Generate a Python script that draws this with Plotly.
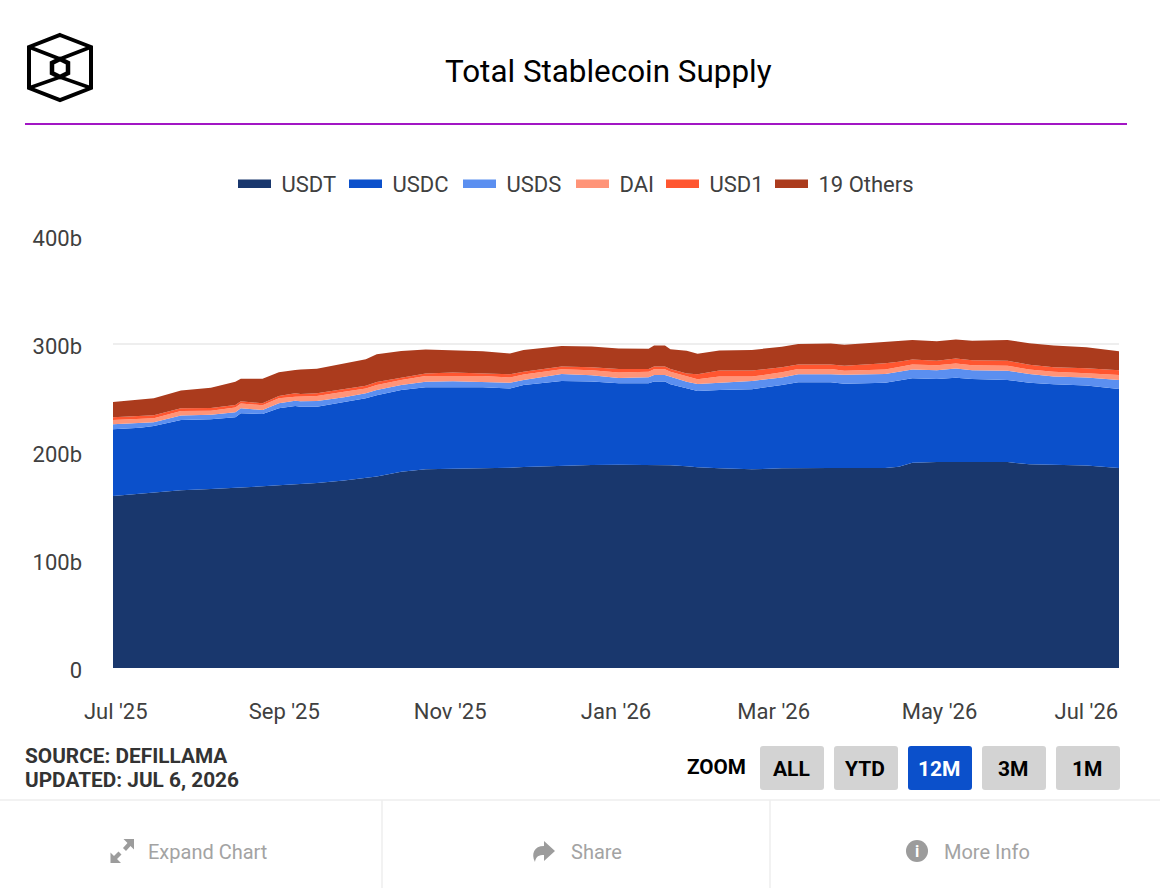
import plotly.graph_objs as go

# values, in billions
dates = ['2025-07-01', '2025-07-11', '2025-07-16', '2025-07-26', '2025-08-06', '2025-08-15', '2025-08-17', '2025-08-25',
         '2025-08-31', '2025-09-06', '2025-09-08', '2025-09-14', '2025-09-24', '2025-10-02', '2025-10-06', '2025-10-15',
         '2025-10-24', '2025-11-03', '2025-11-14', '2025-11-24', '2025-11-29', '2025-12-13', '2025-12-24', '2026-01-03',
         '2026-01-14', '2026-01-16', '2026-01-20', '2026-01-22', '2026-01-28', '2026-02-01', '2026-02-09', '2026-02-21', '2026-03-04',
         '2026-03-10', '2026-03-22', '2026-03-27', '2026-04-11', '2026-04-16', '2026-04-21', '2026-04-30', '2026-05-07',
         '2026-05-13', '2026-05-26', '2026-06-03', '2026-06-12', '2026-06-24', '2026-07-06']
usdt = [159.3, 161.4, 162.4, 164.6, 165.8, 166.7, 167.3, 168.2, 169.2, 170.1, 170.1, 171.3, 173.5, 175.6, 177.2, 181.8,
        184.0, 184.6, 184.9, 185.5, 186.1, 187.4, 188.0, 188.3, 188.0, 188.0, 188.0, 187.7, 186.7, 185.8, 184.9, 184.0, 184.9,
        185.2, 185.2, 185.2, 185.2, 186.4, 190.1, 190.7, 190.7, 190.7, 190.7, 188.6, 188.0, 187.4, 185.2]
usdc = [61.7, 61.1, 61.7, 65.1, 64.5, 65.4, 68.5, 67.0, 71.3, 72.5, 71.9, 70.7, 72.8, 74.1, 75.3, 75.6,
        75.9, 75.3, 75.0, 73.4, 75.9, 78.4, 77.2, 75.3, 75.6, 77.2, 77.2, 75.0, 72.2, 70.7, 72.5, 74.1, 77.2,
        79.3, 79.3, 78.1, 79.0, 79.6, 78.1, 76.8, 78.1, 76.8, 75.9, 75.6, 74.7, 74.1, 73.1]
usds = [4.6, 4.3, 3.4, 4.0, 4.3, 4.6, 4.6, 3.7, 4.6, 4.9, 4.9, 5.2, 4.3, 4.6, 4.9, 4.6,
        5.2, 5.6, 4.9, 5.2, 4.6, 6.5, 5.9, 4.9, 5.6, 6.2, 6.2, 7.1, 6.2, 6.5, 6.8, 7.7, 6.8,
        7.4, 7.4, 8.3, 8.0, 8.3, 8.3, 8.3, 8.6, 8.3, 8.6, 8.0, 7.1, 7.4, 8.3]
dai = [4.0, 4.0, 3.7, 4.3, 3.7, 4.6, 4.6, 4.3, 4.6, 3.7, 4.3, 4.6, 5.2, 4.6, 4.6, 4.6,
       5.2, 4.9, 5.6, 4.9, 5.2, 4.3, 4.6, 5.2, 5.2, 5.2, 5.2, 4.6, 5.2, 4.3, 5.6, 4.0, 4.9,
       4.9, 4.9, 3.7, 4.3, 4.6, 4.6, 4.6, 4.6, 4.6, 4.6, 4.3, 4.6, 4.0, 4.6]
usd1 = [2.5, 2.5, 2.8, 2.5, 2.5, 2.2, 1.9, 1.9, 2.2, 3.1, 2.5, 2.5, 2.5, 2.5, 2.8, 2.5,
        2.5, 3.1, 2.5, 3.1, 2.5, 2.5, 2.8, 3.1, 2.5, 2.5, 2.5, 2.5, 2.5, 4.6, 5.6, 5.6, 4.6,
        4.3, 4.3, 4.6, 5.6, 4.6, 4.6, 4.0, 4.6, 4.6, 4.6, 4.3, 4.0, 4.6, 4.6]
others = [14.2, 15.4, 15.7, 16.4, 18.8, 21.6, 21.0, 22.8, 21.9, 21.6, 22.8, 22.8, 23.8, 24.4, 25.6, 24.4,
          22.2, 21.0, 20.4, 19.1, 20.1, 19.1, 19.1, 19.1, 18.8, 19.4, 19.4, 18.2, 21.0, 19.1, 18.5, 19.1, 19.1,
          18.8, 19.4, 19.4, 19.4, 19.1, 17.9, 18.2, 17.6, 17.9, 19.4, 19.8, 20.1, 19.4, 17.6]

series_names = ['USDT', 'USDC', 'USDS', 'DAI', 'USD1', '19 Others']
series_values = [usdt, usdc, usds, dai, usd1, others]
series_colors = ['#19376d', '#0b50cb', '#5b8ff0', '#ff9478', '#ff5630', '#ab3b1d']
legend_widths = [63, 66, 65, 42, 61, 95]

# labels sit a little off their dates, first and last are pulled inside the plot like in the original
x_ticks = ['2025-07-02', '2025-09-02', '2025-11-02', '2026-01-02', '2026-03-01', '2026-05-01', '2026-06-24']
x_labels = ["Jul '25", "Sep '25", "Nov '25", "Jan '26", "Mar '26", "May '26", "Jul '26"]
y_ticks = [0, 100, 200, 300, 400]
y_labels = ['0', '100b', '200b', '300b', '400b']

zoom_labels = ['ALL', 'YTD', '12M', '3M', '1M']
zoom_lefts = [760, 834, 908, 982, 1056]
active_zoom = '12M'

W, H = 1172, 888
L, R, T, B = 113, 1119, 236, 668
FONT = 'Roboto'


# page pixels to paper coordinates
def px(x):
    return (x - L) / (R - L)


def py(y):
    return (B - y) / (B - T)


def path(points, close=False):
    s = 'M ' + ' L '.join('%.5f,%.5f' % (px(a), py(b)) for a, b in points)
    return s + (' Z' if close else '')


def line_shape(points, color, width, close=False):
    return dict(type='path', xref='paper', yref='paper', path=path(points, close),
                line=dict(color=color, width=width), fillcolor='rgba(0,0,0,0)')


def fill_shape(points, color):
    return dict(type='path', xref='paper', yref='paper', path=path(points, True),
                line=dict(width=0), fillcolor=color)


def rounded(x0, y0, x1, y1, r, color):
    p = 'M %.5f,%.5f' % (px(x0 + r), py(y0))
    p += ' L %.5f,%.5f Q %.5f,%.5f %.5f,%.5f' % (px(x1 - r), py(y0), px(x1), py(y0), px(x1), py(y0 + r))
    p += ' L %.5f,%.5f Q %.5f,%.5f %.5f,%.5f' % (px(x1), py(y1 - r), px(x1), py(y1), px(x1 - r), py(y1))
    p += ' L %.5f,%.5f Q %.5f,%.5f %.5f,%.5f' % (px(x0 + r), py(y1), px(x0), py(y1), px(x0), py(y1 - r))
    p += ' L %.5f,%.5f Q %.5f,%.5f %.5f,%.5f Z' % (px(x0), py(y0 + r), px(x0), py(y0), px(x0 + r), py(y0))
    return dict(type='path', xref='paper', yref='paper', path=p, line=dict(width=0), fillcolor=color)


def label(x, y, text, size, color, bold=False, anchor='left'):
    if bold:
        text = '<b>' + text + '</b>'
    return dict(xref='paper', yref='paper', x=px(x), y=py(y), text=text, showarrow=False, xanchor=anchor,
                yanchor='middle', font=dict(family=FONT, size=size, color=color),
                xshift=-2 if anchor == 'left' else 0)


data = []
for name, values, color in zip(series_names, series_values, series_colors):
    data.append(go.Scatter(x=dates, y=values, name=name, mode='lines', stackgroup='one', legendgroup=name,
                           showlegend=False, line=dict(width=0, color=color), fillcolor=color))
# legend only entries, a fill trace gets a thinner swatch than the original
for name, color, lw in zip(series_names, series_colors, legend_widths):
    data.append(go.Scatter(x=[None], y=[None], name='\u00a0' + name, mode='lines', legendgroup=name,
                           legendwidth=lw, line=dict(width=8.5, color=color)))

shapes = []
# logo
logo = '#000000'
shapes.append(line_shape([(60, 35), (91, 47), (91, 88), (60, 100), (29, 88), (29, 47)], logo, 4, True))
shapes.append(line_shape([(60, 59), (68, 63), (68, 73), (60, 77), (52, 73), (52, 63)], logo, 4.5, True))
shapes.append(line_shape([(29, 47), (60, 59), (91, 47)], logo, 3.5))
shapes.append(line_shape([(29, 88), (60, 77), (91, 88)], logo, 3.5))
# header rule
shapes.append(line_shape([(25, 124), (1127, 124)], '#a216c4', 2))
# footer rules
shapes.append(line_shape([(0, 800), (1160, 800)], '#eeeeee', 1.5))
shapes.append(line_shape([(382, 800), (382, 888)], '#eeeeee', 1.5))
shapes.append(line_shape([(770, 800), (770, 888)], '#eeeeee', 1.5))
# expand icon
shapes.append(fill_shape([(134, 839), (134, 849.5), (130.5, 846), (126, 851), (123, 848), (127.5, 843), (123.5, 839)], '#9c9c9c'))
shapes.append(fill_shape([(110.5, 863), (110.5, 852.5), (114, 856), (118.5, 851.5), (121.5, 854.5), (117, 859), (121, 863)], '#9c9c9c'))
# share icon
shapes.append(dict(type='path', xref='paper', yref='paper', fillcolor='#9c9c9c', line=dict(width=0),
                   path='M %.5f,%.5f L %.5f,%.5f L %.5f,%.5f C %.5f,%.5f %.5f,%.5f %.5f,%.5f C %.5f,%.5f %.5f,%.5f %.5f,%.5f L %.5f,%.5f Z' % (
                       px(555), py(851), px(544), py(841), px(544), py(846), px(534), py(846), px(531), py(854), px(535), py(862),
                       px(536), py(856), px(539), py(855), px(544), py(855), px(544), py(861))))
# info icon
shapes.append(dict(type='circle', xref='paper', yref='paper', x0=px(906), x1=px(928), y0=py(840), y1=py(862),
                   fillcolor='#9c9c9c', line=dict(width=0)))

annotations = [
    label(608, 71, 'Total Stablecoin Supply', 31.4, '#000000', anchor='center'),
    label(25, 756, 'SOURCE: DEFILLAMA', 20.8, '#333333', True),
    label(25, 780, 'UPDATED: JUL 6, 2026', 20.8, '#333333', True),
    label(687, 767, 'ZOOM', 20.7, '#000000', True),
    label(148, 852, 'Expand Chart', 20, '#a3a3a3'),
    label(571, 852, 'Share', 20, '#a3a3a3'),
    label(944, 852, 'More Info', 20, '#a3a3a3'),
    label(917, 851, 'i', 16, '#ffffff', True, 'center'),
]

for text, left in zip(zoom_labels, zoom_lefts):
    on = text == active_zoom
    shapes.append(rounded(left, 746, left + 64, 790, 3, '#0b50cb' if on else '#d3d3d3'))
    annotations.append(label(left + 31, 769, text, 21, '#ffffff' if on else '#000000', True, 'center'))

layout = go.Layout(
    width=W,
    height=H,
    autosize=False,
    margin=dict(l=L, r=W - R, t=T, b=H - B, pad=0),
    paper_bgcolor='white',
    plot_bgcolor='white',
    font=dict(family=FONT, size=22, color='#404040'),
    showlegend=True,
    legend=dict(orientation='h', x=px(233), xanchor='left', y=py(184), yanchor='middle', traceorder='normal',
                itemwidth=33, font=dict(family=FONT, size=22, color='#404040')),
    xaxis=dict(type='date', range=['2025-07-01', '2026-07-06'], tickmode='array', tickvals=x_ticks, ticktext=x_labels,
               showgrid=False, zeroline=False, showline=False, ticks='', ticklabelstandoff=28,
               tickfont=dict(family=FONT, size=22, color='#404040')),
    yaxis=dict(range=[0, 400], tickmode='array', tickvals=y_ticks, ticktext=y_labels, showgrid=True,
               gridcolor='#eeeeee', gridwidth=1.5, zeroline=False, showline=False, ticks='', ticklabelstandoff=30,
               ticklabelshift=2, tickfont=dict(family=FONT, size=22, color='#404040')),
    shapes=shapes,
    annotations=annotations,
)

fig = go.Figure(data=data, layout=layout)
fig.write_html("out.html", config=dict(displayModeBar=False),
               post_script="document.body.style.margin='0';document.body.style.overflow='hidden';")
